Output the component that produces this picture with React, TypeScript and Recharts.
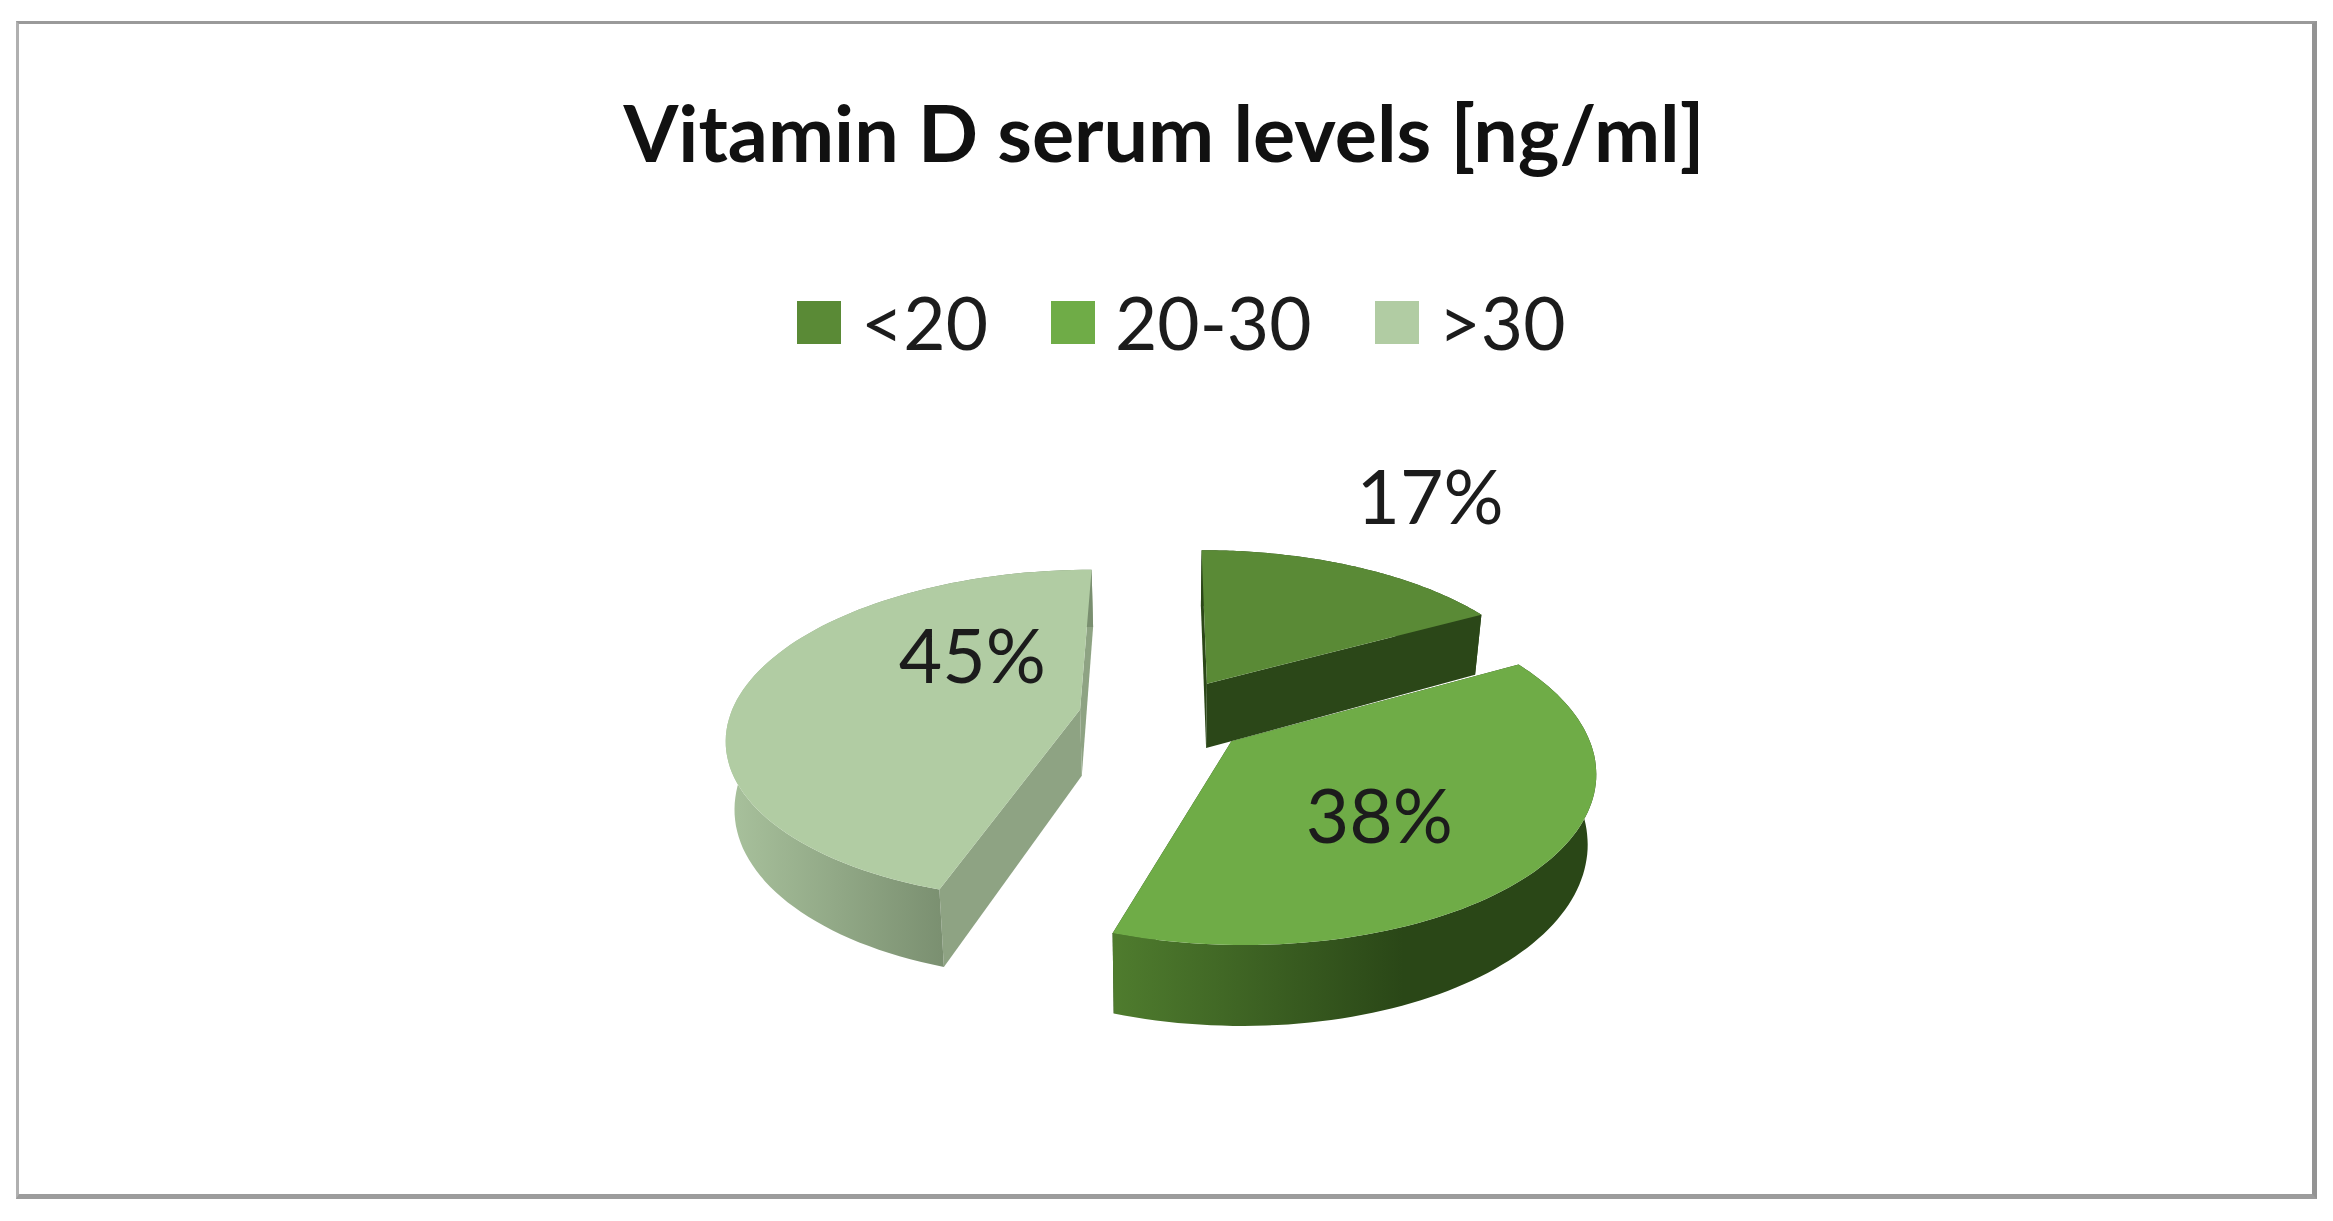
import React from "react";
import { PieChart, Pie, Legend } from "recharts";

// ---- data ----
const categories = ["<20", "20-30", ">30"];
const shares = [17, 38, 45];
const topColors = ["#5a8a36", "#6fac47", "#b1cca3"];

// ---- styles ----
const cutColors = ["#2b4718", "#2b4718", "#8ea383"];
const wallFrom = ["#2b4718", "#4f7c2e", "#a9c29d"];
const wallTo = ["#2b4718", "#2a4717", "#7a8f70"];
const labelAngle = [29, 136.5, 317];
const labelRadius = [1.72, 0.545, 0.5];
const explode = [0.237, 0.237, 0.25]; // slice offset in radii

const FONT = "Lato, Carlito, Calibri, sans-serif";
const TILT = 0.467; // vertical / horizontal radius ratio
const PERSP = 0.155; // perspective strength
const DEPTH = 0.19; // thickness in radii
const BASE_SHRINK = 0.98;

const table = categories.map((name, i) => ({ name, value: shares[i], fill: topColors[i] }));

type P = [number, number];

function project(cx: number, cy: number, R: number, u: number, v: number, low: boolean): P {
  const den = 1 - PERSP * v;
  let x = (R * u) / den;
  let y = (R * TILT * v) / den;
  if (low) {
    x *= BASE_SHRINK;
    y += (R * DEPTH) / den;
  }
  return [cx + x, cy + y];
}

const poly = (pts: P[]) =>
  pts.map((p, i) => `${i ? "L" : "M"}${p[0].toFixed(1)} ${p[1].toFixed(1)}`).join(" ") + " Z";

function SliceShape(props: any) {
  const { cx, cy, outerRadius: R, startAngle, endAngle, index, fill } = props;
  const t0 = 90 - startAngle;
  const t1 = 90 - endAngle;
  const mid = (((t0 + t1) / 2) * Math.PI) / 180;
  const u0 = explode[index] * Math.sin(mid);
  const v0 = -explode[index] * Math.cos(mid);

  const arcTop: P[] = [];
  const arcLow: P[] = [];
  const n = 90;
  for (let i = 0; i <= n; i++) {
    const t = ((t0 + ((t1 - t0) * i) / n) * Math.PI) / 180;
    const u = u0 + Math.sin(t);
    const v = v0 - Math.cos(t);
    arcTop.push(project(cx, cy, R, u, v, false));
    arcLow.push(project(cx, cy, R, u, v, true));
  }
  const apexTop = project(cx, cy, R, u0, v0, false);
  const apexLow = project(cx, cy, R, u0, v0, true);
  const xs = arcTop.map((p) => p[0]);
  const x1 = Math.min(...xs);
  const x2 = Math.max(...xs);
  const gid = `wall-${index}`;

  return (
    <g>
      <defs>
        <linearGradient id={gid} gradientUnits="userSpaceOnUse" x1={x1} x2={x2} y1={0} y2={0}>
          <stop offset="0" stopColor={wallFrom[index]} />
          <stop offset="0.6" stopColor={wallTo[index]} />
          <stop offset="1" stopColor={wallTo[index]} />
        </linearGradient>
      </defs>
      <path d={poly([apexTop, arcTop[0], arcLow[0], apexLow])} fill={cutColors[index]} />
      <path d={poly([apexTop, arcTop[n], arcLow[n], apexLow])} fill={cutColors[index]} />
      <path d={poly([...arcTop, ...arcLow.slice().reverse()])} fill={`url(#${gid})`} />
      <path d={poly([apexTop, ...arcTop])} fill={fill} />
    </g>
  );
}

function SliceLabel(props: any) {
  const { cx, cy, outerRadius: R, midAngle, index, percent } = props;
  const mid = ((90 - midAngle) * Math.PI) / 180;
  const u0 = explode[index] * Math.sin(mid);
  const v0 = -explode[index] * Math.cos(mid);
  const t = (labelAngle[index] * Math.PI) / 180;
  const r = labelRadius[index];
  const [x, y] = project(cx, cy, R, u0 + r * Math.sin(t), v0 - r * Math.cos(t), false);
  return (
    <text
      x={x}
      y={y}
      textAnchor="middle"
      dominantBaseline="central"
      fontFamily={FONT}
      fontSize={75}
      fill="#1c1c1c"
    >
      {`${Math.round(percent * 100)}%`}
    </text>
  );
}

function LegendContent({ payload }: any) {
  return (
    <div style={{ display: "flex", alignItems: "center", fontFamily: FONT, fontSize: 73, color: "#1c1c1c", lineHeight: "86px" }}>
      {(payload || []).map((e: any, i: number) => (
        <div key={i} style={{ display: "flex", alignItems: "center", marginRight: 63 }}>
          <span style={{ display: "inline-block", width: 44, height: 43, background: e.color, marginRight: 20 }} />
          <span>{e.value}</span>
        </div>
      ))}
    </div>
  );
}

export default function App() {
  return (
    <div style={{ position: "absolute", left: 0, top: 0, width: 2333, height: 1221, background: "#fff", overflow: "hidden" }}>
      <div
        style={{
          position: "absolute",
          left: 16,
          top: 21,
          width: 2293,
          height: 1170,
          borderStyle: "solid",
          borderWidth: "3px 5px 5px 3px",
          borderColor: "#9a9a9a #939393 #9c9c9c #b0b0b0",
        }}
      />
      <div
        style={{
          position: "absolute",
          left: 0,
          width: 2328,
          top: 85,
          textAlign: "center",
          fontFamily: FONT,
          fontWeight: 700,
          fontSize: 79,
          lineHeight: "94px",
          color: "#111",
        }}
      >
        Vitamin D serum levels [ng/ml]
      </div>
      <div style={{ position: "absolute", left: 0, top: 0 }}>
        <PieChart width={2333} height={1221}>
          <Legend
            content={<LegendContent />}
            layout="horizontal"
            verticalAlign="top"
            align="left"
            itemSorter={null}
            wrapperStyle={{ left: 797, top: 279, width: 900, height: 86 }}
          />
          <Pie
            data={table}
            dataKey="value"
            nameKey="name"
            cx={1161}
            cy={625}
            outerRadius={350}
            startAngle={90}
            endAngle={-270}
            stroke="none"
            isAnimationActive={false}
            shape={SliceShape}
            label={SliceLabel}
            labelLine={false}
          />
        </PieChart>
      </div>
    </div>
  );
}
